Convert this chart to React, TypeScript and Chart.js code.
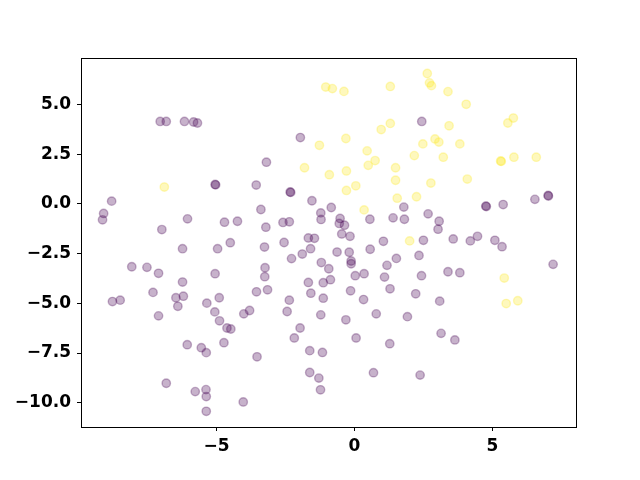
import React, { useEffect, useRef } from "react";
import { Chart, registerables } from "chart.js";

Chart.register(...registerables);

// Class 0 (purple) points
const purpleX = [
  -7.04, -6.82, -6.16, -5.83, -5.69, -5.05, -5.03, -8.80, -9.09, -9.13, -6.05, -6.98, -4.71, -4.24, -4.50,
  -1.96, -3.19, -3.56, -2.33, -2.31, -1.54, -0.84, -3.39, -1.22, 1.79, -1.21, -0.52, -0.55, -0.36, 0.56,
  1.40, 1.81, -2.59, -2.36, -3.21, -0.46, -0.16, -2.55, -1.67, -1.45, 1.05, -3.26, 0.57,
  2.44, 4.76, 4.78, 5.39, 6.54, 7.02, 7.03, 2.67, 3.07, 3.03, 2.50, 3.58, 4.20, 4.46, 5.09, 5.35,
  -6.23, -4.96, -8.07, -7.52, -7.10, -5.05, -6.23, -7.30, -6.47, -6.20, -8.77, -8.49, -5.35, -4.90, -6.40,
  -5.06, -7.10, -4.01, -3.80, -4.89, -4.62, -4.48, -6.06, -5.55, -5.37, -4.73, -6.82, -5.77, -5.38, -5.37,
  -5.37, -4.03,
  -1.59, -1.89, -2.28, -0.63, -0.19, -0.12, -0.12, -1.20, -0.93, -3.24, -3.25, -1.67, -1.13, -0.87, 0.03,
  0.35, 1.18, 1.52, 1.09, 1.29, -3.55, -3.15, -1.58, -0.14, -1.13, 0.33, -2.36, -2.44, -1.22, -0.31,
  0.79, 1.92, 2.22, -1.97, -2.18, 0.06, 1.28, -1.62, -1.16, -3.53, -1.62, -1.29, 0.69, -1.23,
  2.34, 2.43, 3.39, 3.82, 3.09, 3.14, 3.64, 2.38, 7.20,
];
const purpleY = [
  4.15, 4.15, 4.15, 4.12, 4.07, 0.98, 0.96, 0.14, -0.48, -0.80, -0.75, -1.29, -0.92, -0.87, -1.95,
  3.34, 2.10, 0.95, 0.60, 0.58, 0.16, -0.18, -0.28, -0.45, -0.16, -0.78, -0.73, -0.98, -1.07, -0.77,
  -0.70, -0.77, -0.93, -0.90, -1.17, -1.51, -1.63, -1.94, -1.71, -1.73, -1.88, -2.17, -2.28,
  4.15, -0.11, -0.13, -0.03, 0.23, 0.43, 0.40, -0.50, -0.87, -1.27, -1.83, -1.76, -1.86, -1.63, -1.83, -2.15,
  -2.25, -2.25, -3.16, -3.19, -3.49, -3.51, -3.93, -4.45, -4.72, -4.64, -4.91, -4.84, -4.99, -4.72, -5.15,
  -5.43, -5.63, -5.53, -5.36, -5.88, -6.24, -6.29, -7.08, -7.23, -7.48, -6.98, -9.02, -9.44, -9.34, -9.69,
  -10.43, -9.96,
  -2.25, -2.52, -2.75, -2.42, -2.43, -2.87, -3.01, -2.95, -3.26, -3.21, -3.66, -3.95, -3.96, -3.81, -3.61,
  -3.51, -3.09, -2.74, -3.68, -4.27, -4.42, -4.32, -4.49, -4.37, -4.74, -4.81, -4.84, -5.41, -5.58, -5.83,
  -5.53, -5.67, -4.52, -6.24, -6.74, -6.74, -7.03, -7.38, -7.47, -7.69, -8.48, -8.76, -8.49, -9.35,
  -2.59, -3.61, -3.41, -3.46, -4.89, -6.51, -6.84, -8.61, -3.04,
];

// Class 1 (yellow) points
const yellowX = [
  -6.89, -1.04, -0.80, -0.38, 1.30, 1.30, 0.97, -0.31, -1.27, 0.46, 0.75, 0.50, -1.81, 1.49, -0.29,
  -0.91, 1.49, 0.05, -0.29, 1.55, 0.35, 2.00, 2.17, 2.25, 2.64, 2.72, 2.79, 3.39, 4.05, 5.56,
  5.76, 3.43, 2.92, 3.06, 2.48, 3.82, 3.22, 5.30, 5.32, 5.78, 6.59, 2.77, 4.09, 5.43, 5.50, 5.92,
];
const yellowY = [
  0.85, 5.88, 5.80, 5.66, 5.91, 4.05, 3.74, 3.29, 2.95, 2.67, 2.18, 1.94, 1.82, 1.82, 1.66,
  1.47, 1.19, 0.91, 0.68, 0.29, -0.30, -1.86, 2.43, 0.36, 6.56, 6.09, 5.95, 5.65, 5.01, 4.07,
  4.32, 3.93, 3.27, 3.11, 3.02, 3.02, 2.35, 2.16, 2.14, 2.35, 2.35, 1.05, 1.25, -3.73, -5.01, -4.87,
];

const xTicks = [-5, 0, 5];
const yTicks = [-10, -7.5, -5, -2.5, 0, 2.5, 5];

const fmtMinus = (s: string) => s.replace("-", "\u2212");

const framePlugin = {
  id: "frame",
  afterDraw(chart: any) {
    const { ctx, chartArea } = chart;
    ctx.save();
    ctx.strokeStyle = "#000";
    ctx.lineWidth = 1;
    ctx.strokeRect(
      Math.round(chartArea.left) + 0.5,
      Math.round(chartArea.top) + 0.5,
      Math.round(chartArea.right - chartArea.left),
      Math.round(chartArea.bottom - chartArea.top)
    );
    ctx.restore();
  },
};

export default function App() {
  const ref = useRef<HTMLCanvasElement | null>(null);
  useEffect(() => {
    if (!ref.current) return;
    const font = { family: "'DejaVu Sans'", size: 17, weight: "bold" as const };
    const chart = new Chart(ref.current, {
      type: "scatter",
      data: {
        datasets: [
          {
            data: purpleX.map((x, i) => ({ x, y: purpleY[i] })),
            backgroundColor: "rgba(68,1,84,0.3)",
            borderColor: "rgba(68,1,84,0.3)",
            borderWidth: 1.4,
            pointRadius: 4.2,
            pointHoverRadius: 4.2,
          },
          {
            data: yellowX.map((x, i) => ({ x, y: yellowY[i] })),
            backgroundColor: "rgba(253,231,37,0.3)",
            borderColor: "rgba(253,231,37,0.3)",
            borderWidth: 1.4,
            pointRadius: 4.2,
            pointHoverRadius: 4.2,
          },
        ],
      },
      options: {
        animation: false,
        responsive: false,
        events: [],
        layout: { padding: { left: 0, top: 58, right: 64, bottom: 0 } },
        plugins: { legend: { display: false }, tooltip: { enabled: false } },
        scales: {
          x: {
            type: "linear",
            min: -9.91,
            max: 8.03,
            afterBuildTicks: (s: any) => {
              s.ticks = xTicks.map((v) => ({ value: v }));
            },
            afterFit: (s: any) => {
              s.height = 53;
            },
            grid: { drawOnChartArea: false, drawTicks: true, tickLength: 4, color: "#000", tickColor: "#000" },
            border: { display: true, color: "#000", width: 1 },
            ticks: {
              color: "#000",
              font,
              padding: 5,
              maxRotation: 0,
              callback: (v: any) => fmtMinus(String(v)),
            },
          },
          y: {
            type: "linear",
            min: -11.22,
            max: 7.34,
            afterBuildTicks: (s: any) => {
              s.ticks = yTicks.map((v) => ({ value: v }));
            },
            afterFit: (s: any) => {
              s.width = 81;
            },
            grid: { drawOnChartArea: false, drawTicks: true, tickLength: 4, color: "#000", tickColor: "#000" },
            border: { display: true, color: "#000", width: 1 },
            ticks: {
              color: "#000",
              font,
              padding: 6,
              callback: (v: any) => fmtMinus(Number(v).toFixed(1)),
            },
          },
        },
      },
      plugins: [framePlugin],
    });
    return () => chart.destroy();
  }, []);
  return (
    <div style={{ position: "fixed", left: 0, top: 0, width: 640, height: 480, background: "#fff" }}>
      <canvas ref={ref} width={640} height={480} style={{ width: 640, height: 480 }} />
    </div>
  );
}
